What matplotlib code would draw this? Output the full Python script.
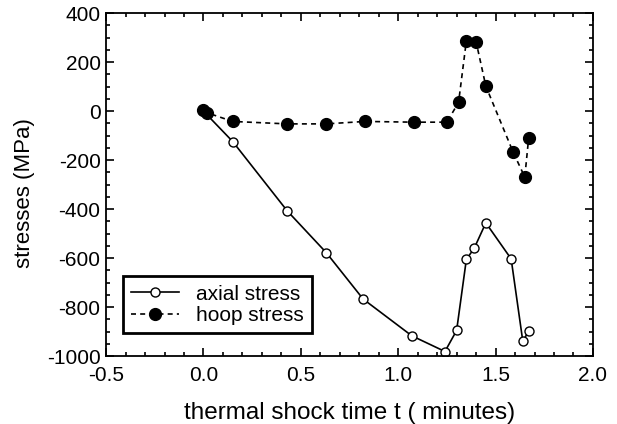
import numpy as np
import matplotlib.pyplot as plt
from matplotlib.ticker import MultipleLocator

plt.rcParams['font.family'] = ['Liberation Sans', 'DejaVu Sans']
plt.rcParams['axes.unicode_minus'] = False

# thermal shock time (minutes) and stresses (MPa)
t_axial = [0.0, 0.15, 0.43, 0.63, 0.82, 1.07, 1.24, 1.30, 1.35, 1.39, 1.45, 1.58, 1.64, 1.67]
axial = [0, -124, -407, -577, -767, -917, -981, -895, -605, -560, -456, -603, -940, -897]

t_hoop = [0.0, 0.02, 0.15, 0.43, 0.63, 0.83, 1.08, 1.25, 1.31, 1.35, 1.40, 1.45, 1.59, 1.65, 1.67]
hoop = [5, -7, -42, -52, -52, -42, -45, -45, 36, 287, 283, 102, -167, -269, -109]

fig = plt.figure(figsize=(6.17, 4.24), dpi=100)
ax = fig.add_axes([0.172, 0.160, 0.789, 0.809])

ax.plot(t_axial, axial, '-', color='black', lw=1.2, marker='o', ms=6.5,
        mfc='white', mec='black', mew=1.0, label='axial stress')
ax.plot(t_hoop, hoop, color='black', lw=1.2, ls=(0, (3, 2.5)), marker='o', ms=8.5,
        mfc='black', mec='black', label='hoop stress')

ax.set_xlim(-0.5, 2.0)
ax.set_ylim(-1000, 400)
ax.xaxis.set_major_locator(MultipleLocator(0.5))
ax.xaxis.set_minor_locator(MultipleLocator(0.1))
ax.yaxis.set_major_locator(MultipleLocator(200))
ax.yaxis.set_minor_locator(MultipleLocator(50))
ax.xaxis.set_major_formatter(plt.FuncFormatter(lambda v, p: f'{v:.1f}'))
ax.tick_params(which='both', direction='in', top=True, right=True, width=1.2)
ax.tick_params(which='major', length=6, labelsize=15)
ax.tick_params(which='minor', length=3)
ax.tick_params(axis='x', pad=7)
ax.tick_params(axis='y', pad=4)
for s in ax.spines.values():
    s.set_linewidth(1.3)

ax.set_xlabel('thermal shock time t ( minutes)', fontsize=17.5, labelpad=12)
ax.set_ylabel('stresses (MPa)', fontsize=16)
ax.yaxis.set_label_coords(-0.146, 0.475)

leg = ax.legend(loc='lower left', bbox_to_anchor=(0.035, 0.067), fontsize=15,
                fancybox=False, framealpha=1, edgecolor='black',
                handlelength=2.3, handletextpad=0.8, borderpad=0.4,
                labelspacing=0.1, borderaxespad=0)
leg.get_frame().set_linewidth(2)

fig.savefig('out.png', dpi=100)
